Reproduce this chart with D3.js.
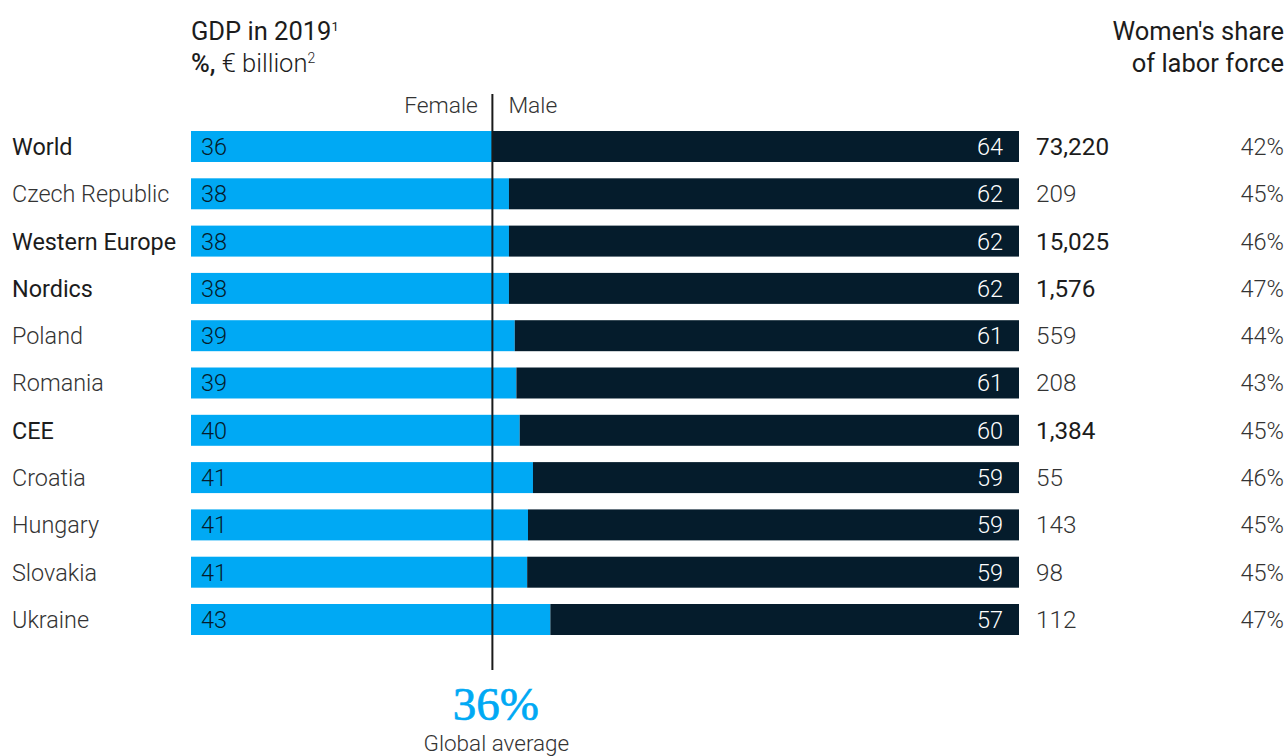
<!DOCTYPE html>
<html>
<head>
<meta charset="utf-8">
<script src="https://cdn.jsdelivr.net/npm/d3@7/dist/d3.min.js"></script>
<style>
  html, body { margin: 0; padding: 0; background: #fff; overflow: hidden; }
  svg { display: block; }
  text { font-family: Roboto, "Liberation Sans", sans-serif; }
</style>
</head>
<body>
<svg id="chart" width="1288" height="756"></svg>
<script>
// Regions / countries, top to bottom
const regions = ["World", "Czech Republic", "Western Europe", "Nordics", "Poland", "Romania",
                 "CEE", "Croatia", "Hungary", "Slovakia", "Ukraine"];
// Aggregate rows set in the heavier weight
const aggregates = ["World", "Western Europe", "Nordics", "CEE"];
// Female share of GDP, % (male share is the remainder)
const femaleShare = [36.4, 38.4, 38.4, 38.4, 39.1, 39.3, 39.7, 41.3, 40.7, 40.6, 43.4];
// GDP in 2019, € billion
const gdp = [73220, 209, 15025, 1576, 559, 208, 1384, 55, 143, 98, 112];
// Women's share of labor force, %
const laborShare = [42, 45, 46, 47, 44, 43, 45, 46, 45, 45, 47];

const rows = regions.map((name, i) => ({
  name,
  female: femaleShare[i],
  male: 100 - femaleShare[i],
  gdp: gdp[i],
  labor: laborShare[i],
  agg: aggregates.includes(name)
}));

const BLUE = "#00a9f4", NAVY = "#051c2c", INK = "#1c1c1c", SOFT = "#333333";

const svg = d3.select("#chart");

const x = d3.scaleLinear().domain([0, 100]).range([191, 1019]);
const y = d3.scaleBand().domain(regions).range([122.85, 643.15])
  .paddingInner(0.345).paddingOuter(0.1725);

const pct0 = v => Math.round(v).toString();
const fmtGdp = d3.format(",");

// Column headers
const hdr = svg.append("g").attr("fill", INK).style("font-size", "25.5px");
const t1 = hdr.append("text").attr("x", 191).attr("y", 40).attr("font-weight", 400);
t1.append("tspan").text("GDP in 2019");
t1.append("tspan").attr("dy", -9).style("font-size", "13px").text("1");
const t2 = hdr.append("text").attr("x", 191).attr("y", 72).attr("font-weight", 300);
t2.append("tspan").attr("font-weight", 500).text("%,");
t2.append("tspan").text(" € billion");
t2.append("tspan").attr("dy", -9).style("font-size", "14px").text("2");

hdr.append("text").attr("x", 1284).attr("y", 40).attr("text-anchor", "end")
  .attr("font-weight", 400).text("Women's share");
hdr.append("text").attr("x", 1284).attr("y", 72).attr("text-anchor", "end")
  .attr("font-weight", 400).text("of labor force");

const avg = rows[0].female;

svg.append("text").attr("x", x(avg) - 14.5).attr("y", 113).attr("text-anchor", "end")
  .attr("fill", SOFT).attr("font-weight", 300).style("font-size", "22.8px").text("Female");
svg.append("text").attr("x", x(avg) + 16).attr("y", 113).attr("text-anchor", "start")
  .attr("fill", SOFT).attr("font-weight", 300).style("font-size", "22.8px").text("Male");

// Stacked female / male bars
const row = svg.append("g").selectAll("g").data(rows).join("g")
  .attr("transform", d => `translate(0,${y(d.name)})`);

row.append("rect").attr("x", x(0)).attr("y", 0)
  .attr("width", d => x(d.female) - x(0)).attr("height", y.bandwidth()).attr("fill", BLUE);
row.append("rect").attr("x", d => x(d.female)).attr("y", 0)
  .attr("width", d => x(100) - x(d.female)).attr("height", y.bandwidth()).attr("fill", NAVY);

const mid = y.bandwidth() / 2 + 8.5;

row.append("text").attr("x", 12).attr("y", mid)
  .attr("fill", d => d.agg ? INK : SOFT).attr("font-weight", d => d.agg ? 400 : 300)
  .style("font-size", "23.4px").text(d => d.name);

row.append("text").attr("x", x(0) + 10).attr("y", mid).attr("fill", NAVY)
  .attr("font-weight", 300).style("font-size", "23.5px").text(d => pct0(d.female));

row.append("text").attr("x", x(100) - 16).attr("y", mid).attr("text-anchor", "end")
  .attr("fill", "#fff").attr("font-weight", 300).style("font-size", "23.5px").text(d => pct0(d.male));

row.append("text").attr("x", 1036).attr("y", mid)
  .attr("fill", d => d.agg ? INK : SOFT).attr("font-weight", d => d.agg ? 400 : 300)
  .style("font-size", "24.3px").text(d => fmtGdp(d.gdp));

row.append("text").attr("x", 1284).attr("y", mid).attr("text-anchor", "end")
  .attr("fill", SOFT).attr("font-weight", 300).style("font-size", "23.5px").text(d => d.labor + "%");

// Global average reference line
svg.append("line").attr("x1", x(avg)).attr("x2", x(avg)).attr("y1", 94).attr("y2", 670)
  .attr("stroke", "#1a1a1a").attr("stroke-width", 2);

svg.append("text").attr("x", x(avg) + 3.5).attr("y", 720).attr("text-anchor", "middle")
  .attr("fill", BLUE).attr("stroke", BLUE).attr("stroke-width", 0.7)
  .style("font-family", "'Liberation Serif', 'DejaVu Serif', serif")
  .style("font-size", "47px").text(pct0(avg) + "%");
svg.append("text").attr("x", x(avg) + 4).attr("y", 751).attr("text-anchor", "middle")
  .attr("fill", SOFT).attr("font-weight", 300).style("font-size", "22.5px").text("Global average");
</script>
</body>
</html>
